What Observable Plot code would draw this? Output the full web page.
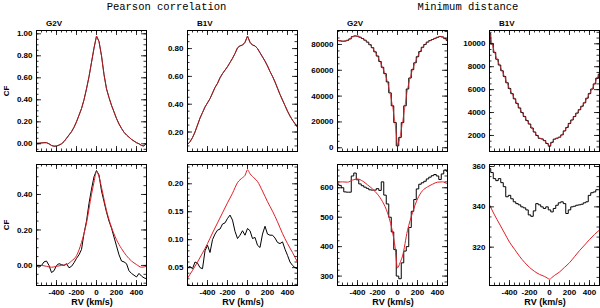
<!DOCTYPE html>
<html><head><meta charset="utf-8">
<script src="https://cdn.jsdelivr.net/npm/d3@7"></script>
<script src="https://cdn.jsdelivr.net/npm/@observablehq/plot@0.6"></script>
<style>
body{margin:0;background:#fff;}
#chart{position:relative;width:600px;height:308px;overflow:hidden;font-family:"Liberation Sans",Arial,sans-serif;color:#000;}
#chart svg{position:absolute;overflow:visible;}
.t{position:absolute;white-space:nowrap;line-height:1;transform:translate(-50%,-50%);}
.b{font-weight:bold;font-size:8px;}
.xl{font-weight:bold;font-size:9px;}
.mono{font-family:"Liberation Mono","DejaVu Sans Mono",monospace;font-size:10.5px;}
</style></head><body><div id="chart"></div>
<script>
// ---------- data ----------
const groupTitles = ["Pearson correlation", "Minimum distance"];
const starLabels = ["G2V", "B1V", "G2V", "B1V"];
const xLabel = "RV (km/s)";
const yLabel = "CF";

const rv = [-600,-575,-550,-525,-500,-475,-450,-425,-400,-375,-350,-325,-300,-275,-250,-225,-200,-175,-150,-125,-100,-75,-50,-25,0,25,50,75,100,125,150,175,200,225,250,275,300,325,350,375,400,425,450,475,500];
const rvRed = [-600,-550,-500,-450,-400,-350,-300,-250,-200,-150,-100,-50,-25,0,25,50,100,150,200,250,300,350,400,450,500];

// top row (black and red nearly coincide)
const pearsonG2VTop = [0.005,0.005,0.008,0.01,0.01,0.0,-0.015,-0.022,-0.02,-0.012,0.0,0.02,0.05,0.08,0.11,0.15,0.2,0.26,0.32,0.40,0.50,0.61,0.74,0.87,0.98,0.93,0.80,0.63,0.50,0.42,0.35,0.29,0.23,0.18,0.14,0.105,0.08,0.06,0.04,0.025,0.01,0.0,-0.015,-0.02,0.005];
const pearsonB1VTop = [0.11,0.13,0.16,0.20,0.25,0.30,0.34,0.38,0.41,0.44,0.48,0.52,0.55,0.59,0.62,0.645,0.67,0.70,0.73,0.765,0.805,0.82,0.825,0.845,0.89,0.845,0.825,0.82,0.80,0.77,0.74,0.71,0.675,0.635,0.60,0.56,0.515,0.47,0.43,0.39,0.35,0.315,0.285,0.26,0.235];
const minDistG2VTop = [83000,82800,82500,82600,83200,84300,86000,86600,86400,85600,84600,83300,81800,79800,77500,74300,71000,66800,62300,57400,51000,42500,32500,19500,1500,8000,19500,32500,45500,54000,60500,65800,70500,74500,77800,80000,81800,83000,83800,84700,85500,86200,85800,84500,83000];
const minDistB1VTop = [10900,10000,9250,8650,8150,7650,7150,6600,6100,5650,5200,4800,4400,4000,3650,3300,3000,2650,2300,2000,1750,1700,1550,1300,1070,1400,1680,1760,1850,2050,2400,2700,3050,3350,3650,3950,4250,4550,4850,5250,5650,6050,6500,7000,7350];

// bottom row, black (observed) series
const pearsonG2VBot = [0.0,-0.01,0.0,0.02,0.025,0.0,-0.04,-0.03,0.0,0.01,0.005,0.0,0.01,-0.013,-0.005,0.015,0.04,0.06,0.09,0.18,0.25,0.35,0.43,0.50,0.535,0.51,0.42,0.36,0.30,0.25,0.21,0.16,0.11,0.06,0.025,0.02,0.01,-0.03,-0.045,-0.055,-0.065,-0.045,-0.06,-0.07,-0.075];
const pearsonB1VBot = [0.05,0.052,0.048,0.06,0.058,0.05,0.048,0.08,0.09,0.077,0.1,0.11,0.117,0.119,0.128,0.13,0.138,0.144,0.135,0.115,0.102,0.108,0.116,0.108,0.12,0.116,0.102,0.104,0.09,0.086,0.11,0.124,0.11,0.108,0.108,0.103,0.095,0.093,0.096,0.083,0.072,0.06,0.054,0.05,0.048];
const minDistG2VBot = [613,608,600,586,585,585,640,650,627,613,607,602,598,593,592,592,597,591,620,575,545,500,450,390,300,291,345,385,400,465,520,560,596,612,617,622,630,636,641,645,640,628,647,660,656];
const minDistB1VBot = [359,357,354,353,354,352,350,345,345.7,344,342.5,341.6,341,340,339.5,338.5,336,335.3,338,341.6,341,340,339.2,340,338.5,337.5,339.2,340.8,342,342.5,341.6,336.7,338.5,340,340.3,340.8,341,341.3,342,342.5,345.7,347,347.4,348.5,348.5];

// bottom row, red (model) series on rvRed
const pearsonG2VRed = [0.0,0.0,-0.005,-0.01,-0.005,0.0,0.005,0.025,0.055,0.13,0.24,0.40,0.47,0.53,0.50,0.44,0.31,0.215,0.145,0.095,0.055,0.025,0.005,-0.01,-0.005];
const pearsonB1VRed = [0.031,0.045,0.06,0.076,0.093,0.112,0.13,0.148,0.166,0.183,0.202,0.211,0.215,0.225,0.218,0.213,0.204,0.187,0.168,0.151,0.132,0.111,0.093,0.077,0.06];
const minDistG2VRed = [619,620,619,626,630,623,610,596,578,553,515,450,400,328,345,368,455,515,562,590,603,612,619,620,612];
const minDistB1VRed = [341,336,331.5,327,322.5,319,315.5,312.5,310,308,306.5,305.5,304.8,304.1,305,306,307.7,310,312.3,315.3,318.3,321,323.8,326.3,328.5];

// axis ticks
const xDomain = [-600, 500];
const xMajor = [-400,-200,0,200,400];
const xMinorStep = 50;
const yDomains = [[-0.07,1.03],[0.06,0.93],[-2900,90800],[600,11160],[-0.113,0.569],[0.018,0.2345],[268,679],[301,361]];
const yMajors = [[0,0.2,0.4,0.6,0.8,1.0],[0.2,0.4,0.6,0.8],[0,20000,40000,60000,80000],[2000,4000,6000,8000,10000],[0,0.2,0.4],[0.05,0.10,0.15,0.20],[300,400,500,600],[320,340,360]];
const yMinorSteps = [0.05,0.05,5000,500,0.05,0.01,20,5];
const yFormats = [".2f",".2f","d","d",".2f",".2f","d","d"];

// ---------- layout ----------
const frameLeft = [36,187,337,489];
const frameTop = [30,164];
const FW = 110, FH = 121;
const mL = 34, mR = 4, mT = 4;
const RED = "#e41f26";

const panels = [
  {col:0,row:0,black:pearsonG2VTop,red:pearsonG2VTop,redX:rv,step:false},
  {col:1,row:0,black:pearsonB1VTop,red:pearsonB1VTop,redX:rv,step:false},
  {col:2,row:0,black:minDistG2VTop,red:minDistG2VTop,redX:rv,step:true},
  {col:3,row:0,black:minDistB1VTop,red:minDistB1VTop,redX:rv,step:true},
  {col:0,row:1,black:pearsonG2VBot,red:pearsonG2VRed,redX:rvRed,step:false},
  {col:1,row:1,black:pearsonB1VBot,red:pearsonB1VRed,redX:rvRed,step:false},
  {col:2,row:1,black:minDistG2VBot,red:minDistG2VRed,redX:rvRed,step:true},
  {col:3,row:1,black:minDistB1VBot,red:minDistB1VRed,redX:rvRed,step:true}
];

function minorTicks(domain, s) {
  const lo = Math.min(domain[0], domain[1]), hi = Math.max(domain[0], domain[1]);
  return d3.range(Math.ceil(lo / s - 1e-9), Math.floor(hi / s + 1e-9) + 1).map(i => +(i * s).toPrecision(10));
}

const chart = document.getElementById("chart");

panels.forEach((p, k) => {
  const yDom = yDomains[k];
  const mB = p.row === 1 ? 16 : 4;
  const blackData = rv.map((x, i) => ({rv: x, v: p.black[i]}));
  const redData = p.redX.map((x, i) => ({rv: x, v: p.red[i]}));
  const xMinor = minorTicks(xDomain, xMinorStep);
  const yMinor = minorTicks(yDom, yMinorSteps[k]);
  const yMajor = yMajors[k];
  const fmt = yFormats[k] === "d" ? (d => String(Math.round(d))) : d3.format(yFormats[k]);
  const tk = {stroke: "#000", strokeWidth: 0.8};
  const marks = [
    Plot.line(blackData, {x: "rv", y: "v", stroke: "#000", strokeWidth: 1, curve: p.step ? "step" : "linear", clip: true}),
    Plot.line(redData, {x: "rv", y: "v", stroke: RED, strokeWidth: 1, strokeOpacity: p.row === 0 ? 0.75 : 1, curve: p.row === 0 ? "linear" : "monotone-x", clip: true}),
    Plot.tickY(yMinor, {y: d => d, insetRight: FW - 2.5, ...tk}),
    Plot.tickY(yMinor, {y: d => d, insetLeft: FW - 2.5, ...tk}),
    Plot.tickY(yMajor, {y: d => d, insetRight: FW - 5, ...tk}),
    Plot.tickY(yMajor, {y: d => d, insetLeft: FW - 5, ...tk}),
    Plot.tickX(xMinor, {x: d => d, insetBottom: FH - 2.5, ...tk}),
    Plot.tickX(xMinor, {x: d => d, insetTop: FH - 2.5, ...tk}),
    Plot.tickX(xMajor, {x: d => d, insetBottom: FH - 5, ...tk}),
    Plot.tickX(xMajor, {x: d => d, insetTop: FH - 5, ...tk}),
    Plot.frame({stroke: "#000", strokeWidth: 1}),
    Plot.axisY(yMajor, {tickSize: 0, tickPadding: 4, tickFormat: fmt, label: null, fontWeight: "bold"})
  ];
  if (p.row === 1) {
    marks.push(Plot.axisX(xMajor, {tickSize: 0, tickPadding: 4, tickFormat: d => String(d), label: null, fontWeight: "bold"}));
  }
  const svg = Plot.plot({
    width: mL + FW + mR,
    height: mT + FH + mB,
    marginLeft: mL, marginRight: mR, marginTop: mT, marginBottom: mB,
    x: p.row === 1 ? {domain: xDomain} : {domain: xDomain, axis: null},
    y: {domain: yDom},
    style: {fontFamily: "'Liberation Sans', Arial, sans-serif", fontSize: "8px", background: "transparent", overflow: "visible"},
    marks
  });
  svg.style.left = (frameLeft[p.col] - mL) + "px";
  svg.style.top = (frameTop[p.row] - mT) + "px";
  chart.appendChild(svg);
});

function addText(txt, x, y, cls, extra) {
  const d = document.createElement("div");
  d.className = "t " + cls;
  d.textContent = txt;
  d.style.left = x + "px";
  d.style.top = y + "px";
  if (extra) d.style.transform = extra;
  chart.appendChild(d);
}
addText(groupTitles[0], (frameLeft[0] + frameLeft[1] + FW) / 2, 7, "mono");
addText(groupTitles[1], (frameLeft[2] + frameLeft[3] + FW) / 2, 7, "mono");
starLabels.forEach((s, c) => {
  const d = document.createElement("div");
  d.className = "b";
  d.style.position = "absolute";
  d.style.lineHeight = "1";
  d.textContent = s;
  d.style.left = (frameLeft[c] + 10) + "px";
  d.style.top = "20px";
  chart.appendChild(d);
});
frameTop.forEach(t => addText(yLabel, 7, t + FH / 2, "b", "translate(-50%,-50%) rotate(-90deg)"));
frameLeft.forEach(l => addText(xLabel, l + FW / 2 + 1, 302, "xl"));
</script>
</body></html>
